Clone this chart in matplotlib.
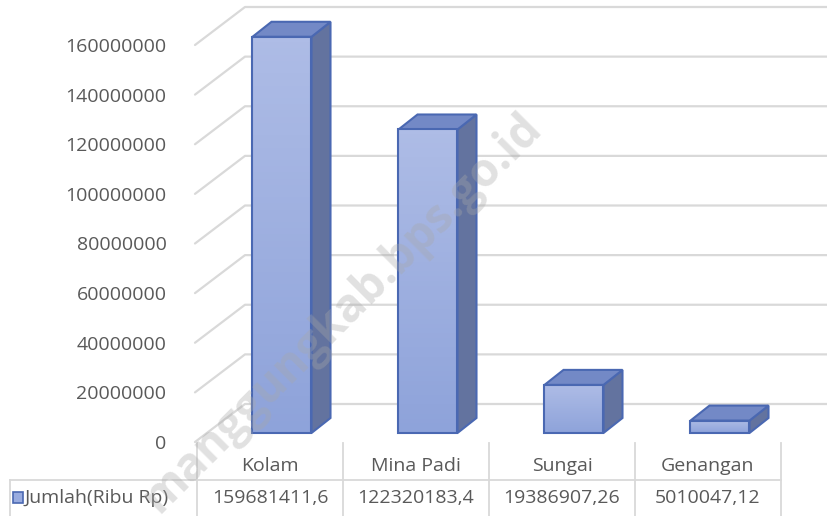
import numpy as np
import matplotlib.pyplot as plt
import matplotlib.colors as mcolors
from matplotlib.patches import Polygon, Rectangle

# Data
categories = ['Kolam', 'Mina Padi', 'Sungai', 'Genangan']
values = [159681411.6, 122320183.4, 19386907.26, 5010047.12]
value_labels = ['159681411,6', '122320183,4', '19386907,26', '5010047,12']
series_name = 'Jumlah(Ribu Rp)'
yticks = np.arange(0, 160000001, 20000000)

plt.rcParams['font.family'] = ['Open Sans', 'DejaVu Sans']

W, H = 828, 516
fig = plt.figure(figsize=(W / 100, H / 100), dpi=100)

# pixel geometry of the plotting plane
px_left, px_right = 197, 781      # x = -0.5 .. 3.5
px_zero, px_per_m = 442, 2.48125  # y pixel of 0, pixels per million
ax = fig.add_axes([px_left / W, (H - px_zero) / H,
                   (px_right - px_left) / W, px_zero / H])
cat_px = (px_right - px_left) / 4.0
ymax = px_zero / px_per_m * 1e6
ax.set_xlim(-0.5, 3.5)
ax.set_ylim(0, ymax)

def dx(px):
    return px / cat_px

def dy(px):
    return px / px_per_m * 1e6

for s in ax.spines.values():
    s.set_visible(False)
ax.set_xticks([])
ax.set_yticks(yticks)
ax.set_yticklabels([f'{int(v)}' for v in yticks], fontsize=14, color='#595959')
ax.tick_params(axis='y', length=0, pad=22)

grid_c = '#d9d9d9'
x_front = -0.5 + dx(-2)
x_end = -0.5 + dx(W - px_left)
wall_dx, wall_dy = dx(50), dy(38)
for v in yticks:
    ax.plot([x_front, x_front + wall_dx, x_end], [v, v + wall_dy, v + wall_dy],
            color=grid_c, lw=1.6, clip_on=False, zorder=1,
            solid_capstyle='round')

# bars
front_dx, front_dy = dx(12), dy(9)
depth_dx, depth_dy = dx(19), dy(15)
half_w = dx(29.5)
edge_c = '#4a68b2'
top_c = '#7389c6'
side_c = '#63739f'
grad = mcolors.LinearSegmentedColormap.from_list('g', ['#8ea3da', '#aebce6'])
for i, v in enumerate(values):
    x0 = i + front_dx - half_w
    x1 = i + front_dx + half_w
    y0 = front_dy
    y1 = v + front_dy
    # side face
    ax.add_patch(Polygon([(x1, y0), (x1 + depth_dx, y0 + depth_dy),
                          (x1 + depth_dx, y1 + depth_dy), (x1, y1)],
                         closed=True, fc=side_c, ec=edge_c, lw=1.5,
                         clip_on=False, zorder=3))
    # top face
    ax.add_patch(Polygon([(x0, y1), (x1, y1), (x1 + depth_dx, y1 + depth_dy),
                          (x0 + depth_dx, y1 + depth_dy)],
                         closed=True, fc=top_c, ec=edge_c, lw=1.5,
                         clip_on=False, zorder=3))
    # front face with gradient
    ax.imshow(np.linspace(1, 0, 64).reshape(-1, 1), cmap=grad, aspect='auto',
              extent=(x0, x1, y0, y1), zorder=4, origin='upper')
    ax.add_patch(Rectangle((x0, y0), x1 - x0, y1 - y0, fc='none', ec=edge_c,
                           lw=1.5, clip_on=False, zorder=5))
ax.set_xlim(-0.5, 3.5)
ax.set_ylim(0, ymax)

# data table
def ypx(p):
    return (px_zero - p) / px_per_m * 1e6

row_top, row_mid, row_bot = ypx(443), ypx(480), ypx(516)
x_tab_left = -0.5 + dx(10 - px_left)
kw = dict(color=grid_c, lw=1.3, clip_on=False, zorder=2)
for b in np.arange(-0.5, 3.6, 1.0):
    ax.plot([b, b], [row_top, row_bot], **kw)
ax.plot([x_tab_left, 3.5], [row_mid, row_mid], **kw)
ax.plot([x_tab_left, x_tab_left], [row_mid, row_bot], **kw)
for i, c in enumerate(categories):
    ax.text(i, ypx(466), c, ha='center', va='center', fontsize=14,
            color='#595959', clip_on=False)
    ax.text(i, ypx(498), value_labels[i], ha='center', va='center',
            fontsize=14, color='#595959', clip_on=False)
ax.add_patch(Rectangle((-0.5 + dx(13 - px_left), ypx(503)), dx(10), dy(11),
                       fc='#98abdf', ec=edge_c, lw=1.2, clip_on=False))
ax.text(-0.5 + dx(25 - px_left), ypx(498), series_name, ha='left',
        va='center', fontsize=14, color='#595959', clip_on=False)

# watermark
fig.text(0.413, 0.393, 'manggungkab.bps.go.id', rotation=45, fontsize=33,
         fontweight='bold', color='#a8a8a8', alpha=0.35, ha='center',
         va='center', zorder=10)

fig.savefig('out.png', dpi=100)
